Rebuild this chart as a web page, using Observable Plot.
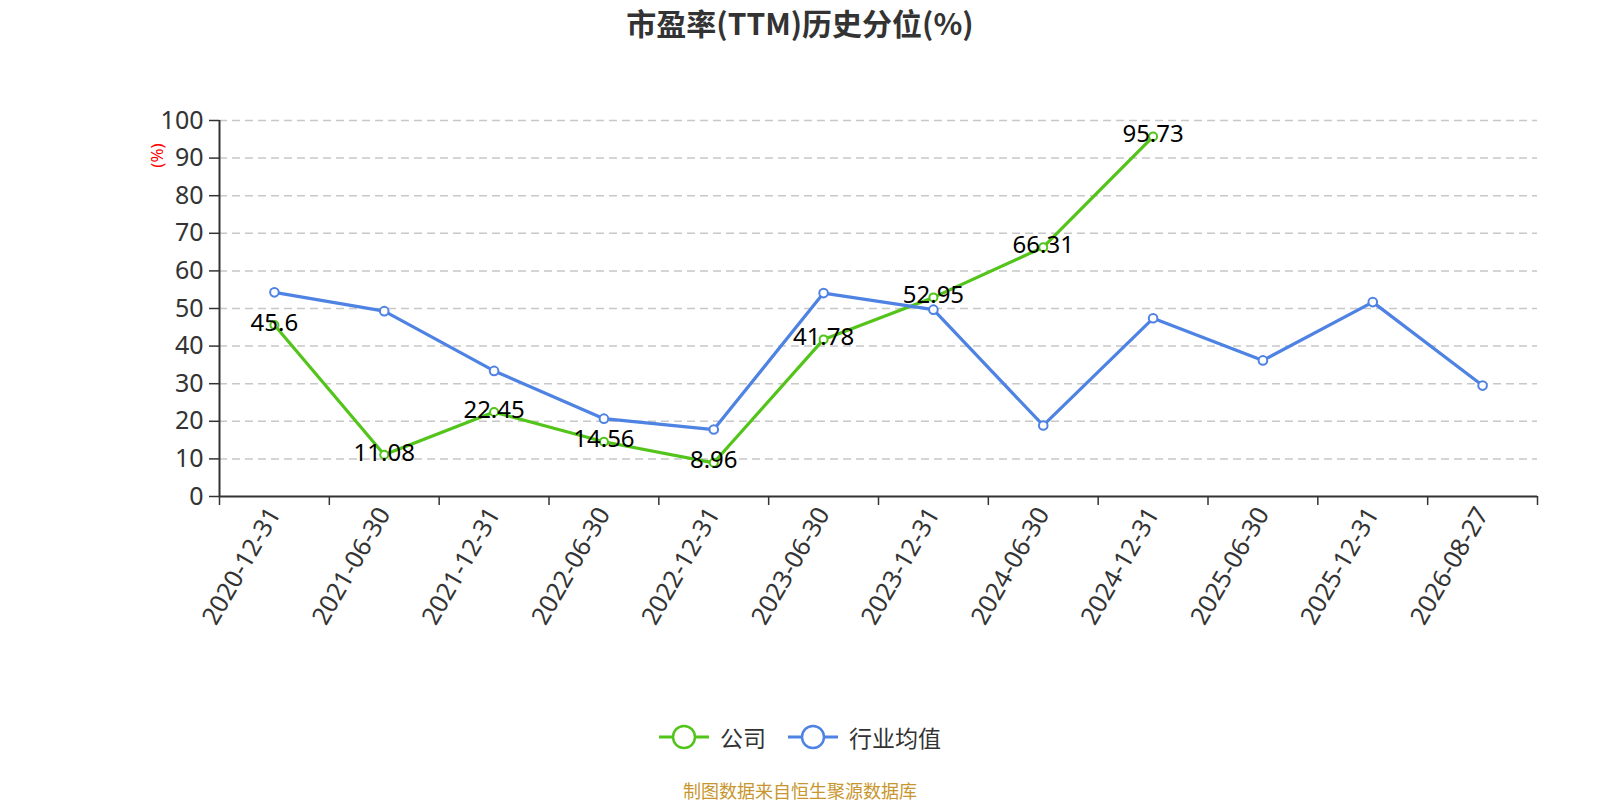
<!DOCTYPE html>
<html>
<head>
<meta charset="utf-8">
<script src="https://cdn.jsdelivr.net/npm/d3@7"></script>
<script src="https://cdn.jsdelivr.net/npm/@observablehq/plot@0.6"></script>
<style>
  html, body { margin: 0; padding: 0; background: #fff; }
  body { width: 1600px; height: 800px; position: relative; overflow: hidden;
         font-family: "Noto Sans", "Noto Sans CJK SC", sans-serif; }
  #title { position: absolute; top: 0; left: 0; width: 1600px; height: 44px; line-height: 44px;
           text-align: center; font-size: 30px; font-weight: bold; color: #333;
           font-family: "Noto Sans CJK SC", "Noto Sans", sans-serif; }
  #chart { position: absolute; top: 50px; left: 0; }
  #legend { position: absolute; top: 722px; left: 0; width: 1600px; height: 30px;
            display: flex; justify-content: center; align-items: center; gap: 22px;
            font-family: "Noto Sans CJK SC", sans-serif; font-size: 23px; color: #333; }
  .item { display: flex; align-items: center; gap: 11px; }
  #footer { position: absolute; top: 778px; left: 0; width: 1600px; text-align: center;
            font-size: 18px; color: #c8962e; line-height: 24px;
            font-family: "Noto Sans CJK SC", sans-serif; }
</style>
</head>
<body>
<div id="title">市盈率(TTM)历史分位(%)</div>
<div id="chart"></div>
<div id="legend"></div>
<div id="footer">制图数据来自恒生聚源数据库</div>
<script>
const dates = ["2020-12-31","2021-06-30","2021-12-31","2022-06-30","2022-12-31","2023-06-30",
               "2023-12-31","2024-06-30","2024-12-31","2025-06-30","2025-12-31","2026-08-27"];
const companyValues = [45.6, 11.08, 22.45, 14.56, 8.96, 41.78, 52.95, 66.31, 95.73];
const industryValues = [54.3, 49.3, 33.4, 20.7, 17.8, 54.1, 49.7, 18.9, 47.4, 36.2, 51.7, 29.5];
const yTicks = [0,10,20,30,40,50,60,70,80,90,100];
const seriesNames = ["公司", "行业均值"];
const colors = ["#52c41a", "#4e82e3"];

const companyRows = companyValues.map((v, i) => ({i, v}));
const industryRows = industryValues.map((v, i) => ({i, v}));
const centers = dates.map((d, i) => i);
const bounds = d3.range(dates.length + 1).map(i => i - 0.5);

const plot = Plot.plot({
  width: 1600,
  height: 640,
  marginTop: 70,
  marginBottom: 194,
  marginLeft: 219,
  marginRight: 63,
  style: {fontFamily: "'Noto Sans', 'Noto Sans CJK SC', sans-serif", fontSize: "25px", color: "#333", background: "#fff"},
  x: {type: "linear", domain: [-0.5, dates.length - 0.5], label: null},
  y: {domain: [0, 100], label: null},
  marks: [
    Plot.ruleY(yTicks.filter(d => d > 0), {stroke: "#c8c8c8", strokeWidth: 1.5, strokeDasharray: "8,5"}),
    Plot.axisY(yTicks, {tickSize: 10, tickPadding: 6, fontSize: 25, label: null, stroke: "#333", strokeWidth: 1.5}),
    Plot.axisX(bounds, {tickSize: 9, tickFormat: () => "", label: null, stroke: "#333", strokeWidth: 1.5}),
    Plot.axisX(centers, {tickSize: 0, tickPadding: 13, tickRotate: -60, fontSize: 25,
                         tickFormat: i => dates[i], label: null}),
    Plot.ruleX([-0.5], {y1: 0, y2: 100, stroke: "#333", strokeWidth: 2}),
    Plot.ruleY([0], {stroke: "#333", strokeWidth: 2}),
    Plot.line(companyRows, {x: "i", y: "v", stroke: colors[0], strokeWidth: 3.2}),
    Plot.line(industryRows, {x: "i", y: "v", stroke: colors[1], strokeWidth: 3.2}),
    Plot.dot(companyRows, {x: "i", y: "v", r: 4, fill: "#fff", stroke: colors[0], strokeWidth: 2}),
    Plot.dot(industryRows, {x: "i", y: "v", r: 4.3, fill: "#fff", stroke: colors[1], strokeWidth: 2}),
    Plot.text(companyRows, {x: "i", y: "v", text: d => String(d.v), fill: "#000", fontSize: 24, dy: -2,
                            textAnchor: "middle", lineAnchor: "middle"}),
    Plot.text(["(%)"], {frameAnchor: "top-left", dx: -62, dy: 35, rotate: -90, fill: "#ff0000", fontSize: 17,
                        textAnchor: "middle", lineAnchor: "middle"})
  ]
});
document.getElementById("chart").appendChild(plot);

const legend = document.getElementById("legend");
seriesNames.forEach((name, k) => {
  const item = document.createElement("div");
  item.className = "item";
  item.innerHTML = `<svg width="50" height="26"><line x1="0" y1="13" x2="50" y2="13" stroke="${colors[k]}" stroke-width="3"/>` +
    `<circle cx="25" cy="13" r="11" fill="#fff" stroke="${colors[k]}" stroke-width="2.5"/></svg><span>${name}</span>`;
  legend.appendChild(item);
});
</script>
</body>
</html>
